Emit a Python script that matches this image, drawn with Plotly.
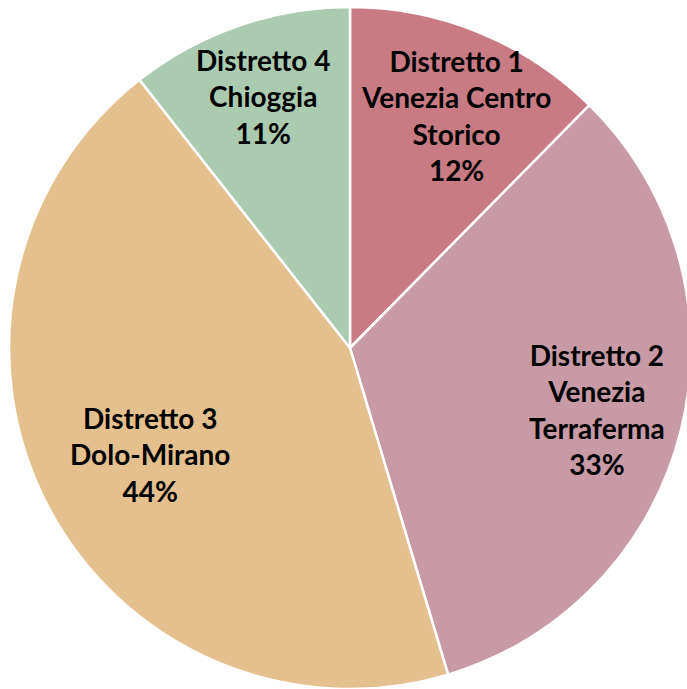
import math
import plotly.graph_objects as go

labels = ["Distretto 1<br>Venezia Centro<br>Storico",
          "Distretto 2<br>Venezia<br>Terraferma",
          "Distretto 3<br>Dolo-Mirano",
          "Distretto 4<br>Chioggia"]
values = [12.4, 33.0, 44.1, 10.6]
colors = ["#C97B84", "#C79AA6", "#E5C08F", "#ABCBB1"]
label_radius = [0.748, 0.745, 0.665, 0.78]
label_angle_shift = [2.2, 0.0, -0.5, 0.0]  # degrees

W, H = 700, 689
# pie box in page pixels (body margin removed below)
x0, x1, y0, y1 = 9, 691, 7, 689
dom_x = [x0 / W, x1 / W]
dom_y = [(H - y1) / H, (H - y0) / H]

fig = go.Figure(go.Pie(
    labels=labels, values=values, sort=False, direction="clockwise", rotation=0,
    marker=dict(colors=colors, line=dict(color="white", width=2.5)),
    textinfo="none", hoverinfo="label+percent", showlegend=False,
    domain=dict(x=dom_x, y=dom_y),
))

cx = (x0 + x1) / 2
cy = (y0 + y1) / 2
R = min(x1 - x0, y1 - y0) / 2
total = sum(values)
acc = 0
for lab, v, rf, sh in zip(labels, values, label_radius, label_angle_shift):
    mid = (acc + v / 2) / total * 2 * math.pi + math.radians(sh)
    acc += v
    px = cx + rf * R * math.sin(mid)
    py = cy - rf * R * math.cos(mid)
    pct = f"{int(v / total * 100 + 0.5)}%"
    fig.add_annotation(x=px / W, y=1 - py / H, xref="paper", yref="paper",
                       text=f"<b>{lab}<br>{pct}</b>", showarrow=False,
                       xanchor="center", yanchor="middle", align="center",
                       font=dict(family="Lato", size=28, color="black"))

fig.update_layout(width=W, height=H, margin=dict(l=0, r=0, t=0, b=0),
                  paper_bgcolor="white", plot_bgcolor="white")
fig.write_html("out.html", config={"displayModeBar": False},
               post_script="document.body.style.margin='0';"
                           "document.body.style.overflow='hidden';")
